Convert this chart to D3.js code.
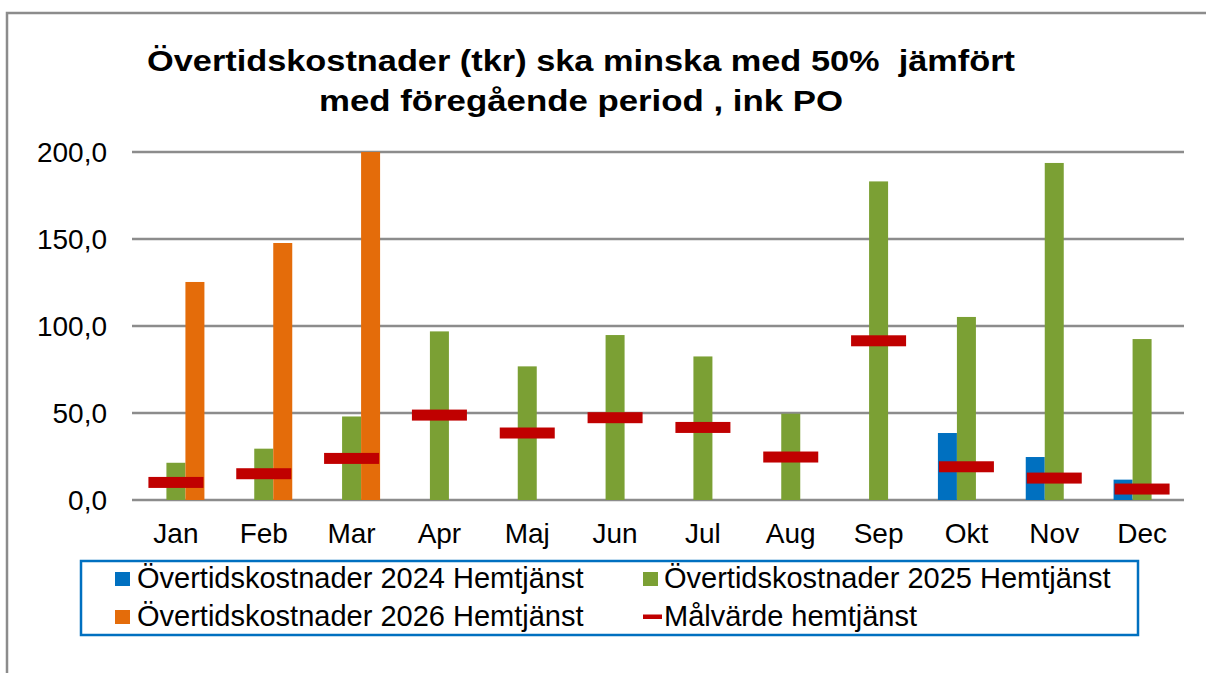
<!DOCTYPE html>
<html lang="sv">

<head>
    <meta charset="utf-8">
    <style>
        body { margin: 0; background: #fff; }
        text { font-family: "Liberation Sans", Arial, sans-serif; fill: #000; }
    </style>
</head>

<body>
    <script src="https://d3js.org/d3.v7.min.js"></script>
    <div id="chart"></div>
    <script>
        // data
        var months = ["Jan", "Feb", "Mar", "Apr", "Maj", "Jun", "Jul", "Aug", "Sep", "Okt", "Nov", "Dec"];
        var series = ["Övertidskostnader 2024 Hemtjänst", "Övertidskostnader 2025 Hemtjänst", "Övertidskostnader 2026 Hemtjänst"];
        var v2024 = [null, null, null, null, null, null, null, null, null, 38.5, 24.7, 11.7];
        var v2025 = [21.4, 29.5, 48, 96.9, 76.8, 94.8, 82.5, 49.6, 183.1, 105.2, 193.7, 92.5];
        var v2026 = [125.3, 147.7, 200, null, null, null, null, null, null, null, null, null];
        var target = [10.1, 15.1, 23.9, 48.8, 38.5, 47.3, 41.7, 24.7, 91.5, 19.1, 12.6, 6.3];
        var yTicks = [0, 50, 100, 150, 200];
        var targetName = "Målvärde hemtjänst";
        var titleLines = ["Övertidskostnader (tkr) ska minska med 50%  jämfört", "med föregående period , ink PO"];
        var colors = ["#0070C0", "#7BA034", "#E46C0A"];
        var red = "#C00000";

        var W = 1206, H = 673;
        var svg = d3.select("#chart").append("svg")
            .attr("width", W)
            .attr("height", H)

        // outer frame (right / bottom are outside the picture)
        svg.append("path")
            .attr("d", "M7,673 V13 H1206")
            .style("fill", "none")
            .style("stroke", "#8c8c8c")
            .style("stroke-width", 2.5)

        // title, stretched a bit wide like the original
        var titleW = [868, 524], titleY = [71, 111];
        svg.append("g")
            .selectAll("text")
            .data(titleLines)
            .enter()
            .append("text")
            .attr("x", 581)
            .attr("y", function (d, i) { return titleY[i] })
            .attr("text-anchor", "middle")
            .attr("textLength", function (d, i) { return titleW[i] })
            .attr("lengthAdjust", "spacingAndGlyphs")
            .style("font-size", "30px")
            .style("font-weight", "bold")
            .style("white-space", "pre")
            .text(function (d) { return d })

        var x = d3.scaleBand()
            .domain(months)
            .range([132, 1186])
            .paddingInner(0.351)
            .paddingOuter(0.1755)
        var xs = d3.scaleBand()
            .domain(d3.range(series.length))
            .range([0, x.bandwidth()])
        var y = d3.scaleLinear()
            .domain([0, 200])
            .range([500, 152])

        // gridlines
        svg.append("g")
            .selectAll("line")
            .data(yTicks)
            .enter()
            .append("line")
            .attr("x1", 132)
            .attr("x2", 1184)
            .attr("y1", function (d) { return y(d) })
            .attr("y2", function (d) { return y(d) })
            .style("stroke", "#8c8c8c")
            .style("stroke-width", 2.5)

        // y labels
        var fmt = function (d) { return d3.format(".1f")(d).replace(".", ",") }
        svg.append("g")
            .selectAll("text")
            .data(yTicks)
            .enter()
            .append("text")
            .attr("x", 107)
            .attr("y", function (d) { return y(d) + 9.5 })
            .attr("text-anchor", "end")
            .style("font-size", "28px")
            .text(fmt)

        // x labels
        svg.append("g")
            .selectAll("text")
            .data(months)
            .enter()
            .append("text")
            .attr("x", function (d) { return x(d) + x.bandwidth() / 2 })
            .attr("y", 543)
            .attr("text-anchor", "middle")
            .style("font-size", "28px")
            .text(function (d) { return d })

        // bars
        var allSeries = [v2024, v2025, v2026];
        allSeries.forEach(function (vals, s) {
            svg.append("g")
                .selectAll("rect")
                .data(vals.map(function (v, i) { return { m: months[i], v: v } }).filter(function (d) { return d.v != null }))
                .enter()
                .append("rect")
                .attr("x", function (d) { return x(d.m) + xs(s) })
                .attr("y", function (d) { return y(d.v) })
                .attr("width", xs.bandwidth())
                .attr("height", function (d) { return y(0) - y(d.v) })
                .style("fill", colors[s])
        })

        // target markers
        svg.append("g")
            .selectAll("rect")
            .data(target)
            .enter()
            .append("rect")
            .attr("x", function (d, i) { return x(months[i]) + x.bandwidth() / 2 - 27.5 })
            .attr("y", function (d) { return y(d) - 5.5 })
            .attr("width", 55)
            .attr("height", 11)
            .style("fill", red)

        // legend
        svg.append("rect")
            .attr("x", 81)
            .attr("y", 561)
            .attr("width", 1057)
            .attr("height", 74)
            .style("fill", "none")
            .style("stroke", "#0070C0")
            .style("stroke-width", 2.5)

        var legendItems = [
            { name: series[0], color: colors[0], col: 0, row: 0, type: "box" },
            { name: series[1], color: colors[1], col: 1, row: 0, type: "box" },
            { name: series[2], color: colors[2], col: 0, row: 1, type: "box" },
            { name: targetName, color: red, col: 1, row: 1, type: "dash" }
        ]
        var colX = [115, 643], rowY = [588, 626]
        var leg = svg.append("g")
            .selectAll("g")
            .data(legendItems)
            .enter()
            .append("g")
            .attr("transform", function (d) { return "translate(" + colX[d.col] + "," + rowY[d.row] + ")" })
        leg.append("rect")
            .attr("x", 0)
            .attr("y", function (d) { return d.type == "box" ? -16 : -11.5 })
            .attr("width", function (d) { return d.type == "box" ? 15 : 19 })
            .attr("height", function (d) { return d.type == "box" ? 14 : 4.5 })
            .style("fill", function (d) { return d.color })
        leg.append("text")
            .attr("x", function (d) { return d.col == 0 ? 22 : 21 })
            .attr("y", 0)
            .style("font-size", "29px")
            .text(function (d) { return d.name })
    </script>
</body>

</html>
